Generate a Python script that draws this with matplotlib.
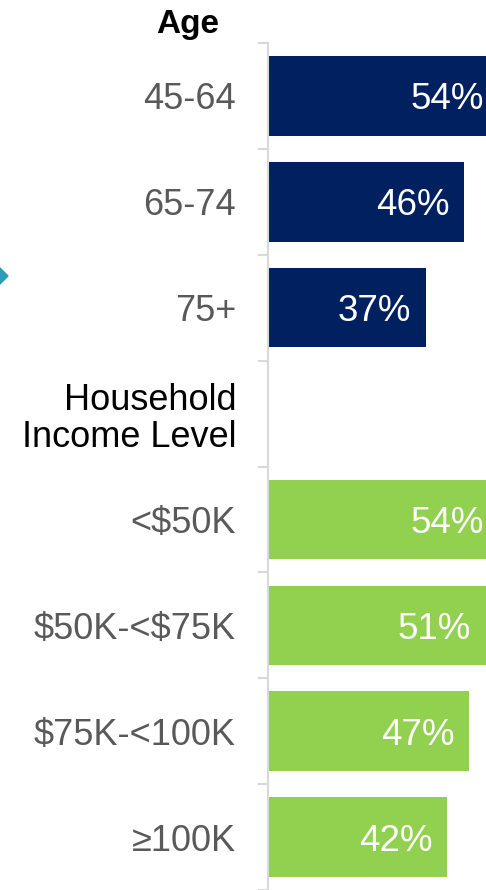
import numpy as np
import matplotlib.pyplot as plt
from matplotlib.patches import Polygon

# data
categories = ["45-64", "65-74", "75+", "Household\nIncome Level",
              "<\\$50K", "\\$50K-<\\$75K", "\\$75K-<100K", "\u2265100K"]
values = [54, 46, 37, None, 54, 51, 47, 42]
groups = ["age", "age", "age", None, "inc", "inc", "inc", "inc"]

colors = {"age": "#002060", "inc": "#92d050"}
fonts = ["Liberation Sans", "DejaVu Sans"]

W, H = 486, 890
fig = plt.figure(figsize=(W / 100, H / 100), dpi=100)
# axes from the gray axis line (x=268) to the right edge, top at y=43
ax = fig.add_axes([268 / W, 0, 1 - 268 / W, (H - 43) / H])

ypos = np.arange(len(categories))
for y, v, g in zip(ypos, values, groups):
    if v is None:
        continue
    ax.barh(y, v, height=0.75, color=colors[g])
    ax.text(v - 3.4, y, f"{v}%", ha="right", va="center_baseline", color="white",
            fontsize=26.5, family=fonts)

ax.set_xlim(0, (W - 268) / 4.27)
ax.set_ylim(7.5 - 7 / 106.75, -0.5)

ax.set_yticks(ypos)
ax.set_yticklabels(categories, family=fonts, fontsize=26)
for lab, g in zip(ax.get_yticklabels(), groups):
    lab.set_color("#595959" if g else "black")
    lab.set_linespacing(1.1)
ax.tick_params(axis="y", which="major", length=0, pad=23)
ax.set_yticks(np.arange(-0.5, len(categories), 1), minor=True)
ax.tick_params(axis="y", which="minor", length=7, width=1.5, color="#d9d9d9")
ax.set_xticks([])

for s in ["top", "right", "bottom"]:
    ax.spines[s].set_visible(False)
ax.spines["left"].set_color("#d9d9d9")
ax.spines["left"].set_linewidth(1.5)

fig.text(188 / W, 1 - 33 / H, "Age", ha="center", va="baseline",
         fontsize=24, fontweight="bold", family=fonts, color="black")

# teal marker at the left edge
cx, cy, r = 0, 1 - 276 / H, 8
arrow = Polygon([(cx - r / W, cy), (cx, cy + r / H), (cx + r / W, cy), (cx, cy - r / H)],
                closed=True, transform=fig.transFigure, color="#2e9bb8")
fig.patches.append(arrow)

fig.savefig("out.png", dpi=100)
